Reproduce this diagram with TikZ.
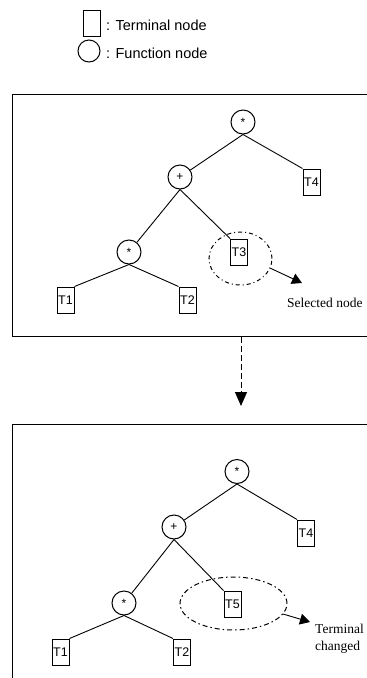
\documentclass[tikz,border=0pt]{standalone}
\usepackage{fontspec}
\setmainfont{Liberation Serif}
\newfontfamily\lsans{Liberation Sans}
\usetikzlibrary{arrows.meta,shapes.geometric}
\begin{document}
\begin{tikzpicture}[x=1pt,y=-1pt,
  term/.style={draw,line width=1pt,minimum width=17pt,minimum height=26pt,inner sep=0pt,font=\lsans\fontsize{12.5}{12.5}\selectfont},
  func/.style={draw,circle,line width=1pt,minimum size=24pt,inner sep=0pt,font=\lsans\fontsize{12}{12}\selectfont},
  edge/.style={line width=0.9pt},
  frame/.style={draw,line width=1.2pt,inner sep=0pt,anchor=north west,minimum width=370pt},
  sel/.style={draw,ellipse,inner sep=0pt,line width=1pt,dash pattern=on 4pt off 3pt on 1pt off 3pt},
  pointer/.style={line width=0.9pt,-{Triangle[length=10pt,width=11pt]}},
  flow/.style={line width=1pt,dash pattern=on 6pt off 3pt,-{Triangle[length=14pt,width=12pt]}},
  legtext/.style={anchor=west,inner sep=0pt,font=\lsans\fontsize{14.5}{14.5}\selectfont},
  note/.style={anchor=west,inner sep=0pt,font=\fontsize{13.5}{17}\selectfont,align=left}
]
\useasboundingbox (0,0) rectangle (367,678);
\clip (0,0) rectangle (367,678);

% legend
\node[term] (lt) at (91.5,23) {};
\node[legtext] (ltx) at (106,25) {: Terminal node};
\node[func,minimum size=22pt] (lf) at (89,51) {};
\node[legtext] (lfx) at (106,53) {: Function node};

% frames
\node[frame,minimum height=242pt] (box1) at (12,94) {};
\node[frame,minimum height=280pt] (box2) at (12,424) {};
\coordinate (ftip) at (241,406);
\draw[flow] (ftip |- box1.south) -- (ftip);

% top tree
\node[func] (r1) at (243,122) {\raisebox{-3pt}{*}};
\node[func] (p1) at (180,177) {\raisebox{-5pt}{+}};
\node[term] (t4a) at (311.5,182) {T4};
\node[func] (s1) at (129,252) {\raisebox{-3pt}{*}};
\node[term] (t3) at (239,252) {T3};
\node[term] (t1a) at (65.5,300) {T1};
\node[term] (t2a) at (187.5,300) {T2};
\draw[edge] (r1.south) -- (p1);
\draw[edge] (r1.south) -- (t4a.north west);
\draw[edge] (p1.south) -- (s1);
\draw[edge] (p1.south) -- (t3.north west);
\draw[edge] (s1.south) -- (t1a.north east);
\draw[edge] (s1.south) -- (t2a.north west);
\node[sel,minimum width=63pt,minimum height=53pt] (e1) at (240.5,258.5) {};
\coordinate (tip1) at (302,283);
\draw[pointer] (e1.-18) -- (tip1);
\node[note] (lab1) at (287,303) {Selected node};

% bottom tree
\node[func] (r2) at (237,471.5) {\raisebox{-3pt}{*}};
\node[func] (p2) at (174,527) {\raisebox{-5pt}{+}};
\node[term] (t4b) at (306,533) {T4};
\node[func] (s2) at (124,603) {\raisebox{-3pt}{*}};
\node[term] (t5) at (232.5,604) {T5};
\node[term] (t1b) at (60.5,652) {T1};
\node[term] (t2b) at (182,652) {T2};
\draw[edge] (r2.south) -- (p2);
\draw[edge] (r2.south) -- (t4b.north west);
\draw[edge] (p2.south) -- (s2);
\draw[edge] (p2.south) -- (t5.north west);
\draw[edge] (s2.south) -- (t1b.north east);
\draw[edge] (s2.south) -- (t2b.north west);
\node[sel,minimum width=107pt,minimum height=53pt,dash pattern=on 5pt off 3pt on 1.5pt off 3pt] (e2) at (233.5,603.5) {};
\coordinate (tip2) at (310,622);
\draw[pointer] (e2.-12) -- (tip2);
\node[note] (lab2) at (315,638.5) {Terminal\\changed};
\end{tikzpicture}
\end{document}
